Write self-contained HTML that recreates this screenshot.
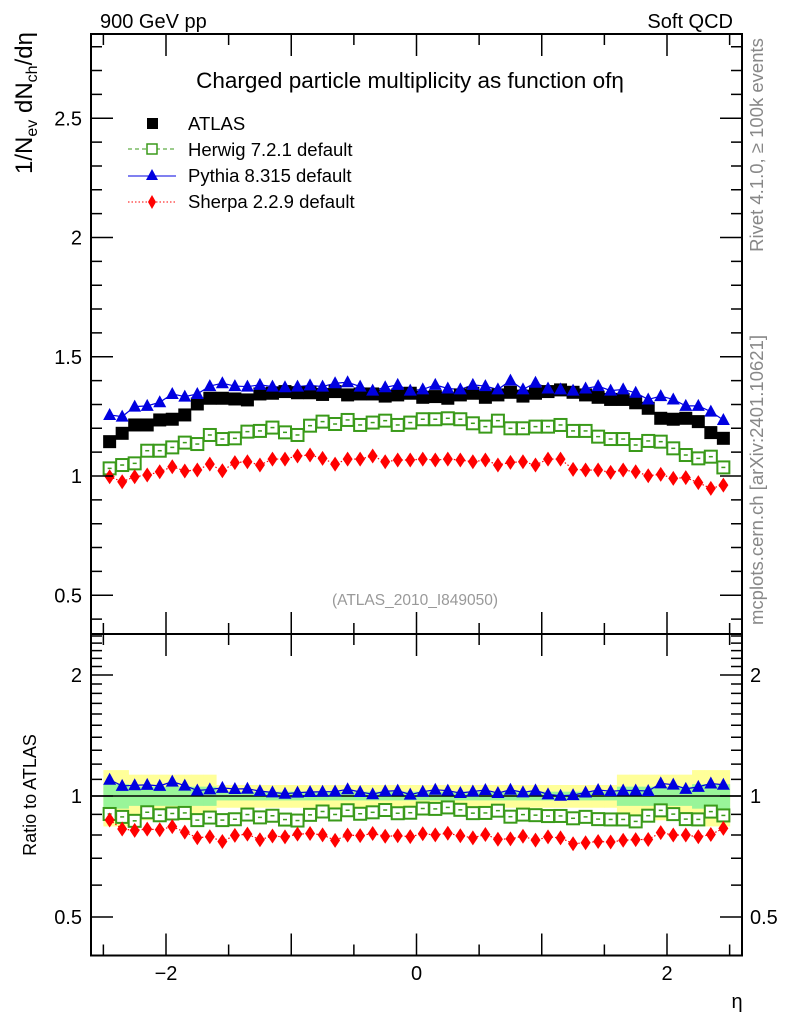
<!DOCTYPE html>
<html><head><meta charset="utf-8"><style>
html,body{margin:0;padding:0;background:#fff;}
svg{display:block;font-family:"Liberation Sans",sans-serif;}
</style></head><body>
<svg id="chart" width="786" height="1024" viewBox="0 0 786 1024">
<g id="bands"></g>
<g id="lines"></g>
<g id="marks"></g>
<g id="axes"></g>
<text x="100" y="28" font-size="20">900 GeV pp</text>
<text x="733" y="28" font-size="20" text-anchor="end">Soft QCD</text>
<text x="410" y="88" font-size="22.5" text-anchor="middle">Charged particle multiplicity as function ofη</text>
<g>
<rect x="147" y="118" width="11" height="11" fill="#000"/>
<text x="188" y="130" font-size="18.5">ATLAS</text>
<line x1="128" y1="149" x2="176" y2="149" stroke="#3a9a1a" stroke-dasharray="4,3"/>
<rect x="147" y="144" width="10" height="10" fill="#fff" stroke="#3a9a1a" stroke-width="1.5"/>
<text x="188" y="156" font-size="18.5">Herwig 7.2.1 default</text>
<line x1="128" y1="176" x2="176" y2="176" stroke="#0000e0"/>
<polygon points="152,169 158,180 146,180" fill="#0000e0"/>
<text x="188" y="182" font-size="18.5">Pythia 8.315 default</text>
<line x1="128" y1="202" x2="176" y2="202" stroke="#f00" stroke-dasharray="1.5,2"/>
<polygon points="152,195 156,202 152,209 148,202" fill="#f00"/>
<text x="188" y="208" font-size="18.5">Sherpa 2.2.9 default</text>
</g>
<text x="415" y="605" font-size="15.5" fill="#999" text-anchor="middle">(ATLAS_2010_I849050)</text>
<text transform="translate(32,103) rotate(-90)" font-size="24" text-anchor="middle">1/N<tspan font-size="16" dy="5">ev</tspan><tspan dy="-5"> dN</tspan><tspan font-size="16" dy="5">ch</tspan><tspan dy="-5">/dη</tspan></text>
<text transform="translate(36,795) rotate(-90)" font-size="18" text-anchor="middle">Ratio to ATLAS</text>
<text transform="translate(763,145) rotate(-90)" font-size="18.5" fill="#888" text-anchor="middle">Rivet 4.1.0, ≥ 100k events</text>
<text transform="translate(763,480) rotate(-90)" font-size="18.5" fill="#888" text-anchor="middle">mcplots.cern.ch [arXiv:2401.10621]</text>
<text x="737" y="1008" font-size="20" text-anchor="middle">η</text>
</svg>
<script>
const etaCenters = [-2.45,-2.35,-2.25,-2.15,-2.05,-1.95,-1.85,-1.75,-1.65,-1.55,-1.45,-1.35,-1.25,-1.15,-1.05,-0.95,-0.85,-0.75,-0.65,-0.55,-0.45,-0.35,-0.25,-0.15,-0.05,0.05,0.15,0.25,0.35,0.45,0.55,0.65,0.75,0.85,0.95,1.05,1.15,1.25,1.35,1.45,1.55,1.65,1.75,1.85,1.95,2.05,2.15,2.25,2.35,2.45];
const atlasValues = [1.144,1.179,1.214,1.214,1.235,1.238,1.256,1.302,1.326,1.326,1.323,1.319,1.344,1.347,1.354,1.349,1.349,1.342,1.354,1.340,1.344,1.344,1.335,1.340,1.347,1.330,1.333,1.326,1.340,1.347,1.330,1.340,1.351,1.335,1.347,1.354,1.361,1.351,1.340,1.330,1.321,1.321,1.307,1.284,1.242,1.238,1.242,1.228,1.182,1.158];
const herwigValues = [1.032,1.046,1.053,1.106,1.106,1.120,1.140,1.134,1.172,1.155,1.158,1.186,1.189,1.203,1.183,1.172,1.211,1.228,1.218,1.235,1.214,1.224,1.232,1.214,1.224,1.238,1.238,1.242,1.238,1.221,1.207,1.232,1.200,1.200,1.207,1.207,1.214,1.189,1.189,1.165,1.155,1.155,1.130,1.147,1.144,1.116,1.088,1.074,1.081,1.036];
const pythiaValues = [1.256,1.249,1.291,1.294,1.309,1.344,1.333,1.344,1.377,1.389,1.377,1.375,1.382,1.375,1.372,1.375,1.380,1.375,1.389,1.393,1.375,1.358,1.372,1.382,1.358,1.363,1.382,1.367,1.363,1.382,1.377,1.363,1.400,1.363,1.391,1.367,1.363,1.358,1.367,1.377,1.358,1.363,1.349,1.321,1.335,1.321,1.294,1.294,1.270,1.235];
const sherpaValues = [0.997,0.976,0.997,1.004,1.018,1.039,1.021,1.025,1.050,1.022,1.056,1.060,1.046,1.071,1.071,1.084,1.088,1.074,1.050,1.071,1.071,1.084,1.060,1.067,1.067,1.071,1.067,1.071,1.067,1.060,1.067,1.046,1.057,1.060,1.046,1.071,1.071,1.028,1.025,1.025,1.015,1.025,1.018,1.001,1.007,0.990,0.993,0.972,0.948,0.962];
const statErr = [0.07,0.07,0.055,0.055,0.055,0.055,0.055,0.055,0.055,0.025,0.025,0.025,0.025,0.025,0.025,0.025,0.025,0.025,0.025,0.025,0.025,0.025,0.025,0.025,0.025,0.025,0.025,0.025,0.025,0.025,0.025,0.025,0.025,0.025,0.025,0.025,0.025,0.025,0.025,0.025,0.025,0.055,0.055,0.055,0.055,0.055,0.055,0.07,0.07,0.07];
const totalErr = [0.16,0.16,0.13,0.13,0.13,0.13,0.13,0.13,0.13,0.065,0.065,0.065,0.065,0.065,0.065,0.065,0.065,0.065,0.065,0.065,0.065,0.065,0.065,0.065,0.065,0.065,0.065,0.065,0.065,0.065,0.065,0.065,0.065,0.065,0.065,0.065,0.065,0.065,0.065,0.065,0.065,0.13,0.13,0.13,0.13,0.13,0.13,0.16,0.16,0.16];
const mainTicks = [0.5,1,1.5,2,2.5];
const ratioTicks = [0.5,1,2];
const xTicks = [-2,0,2];

const NS="http://www.w3.org/2000/svg";
const L=91,R=742,T=34,MB=634,RB=955.5;
const xS=v=>416.5+v*125.25;
const yM=v=>476-(v-1)*238.5;
const yR=r=>796-121*Math.log2(r);
function mk(tag,attrs,parent){const e=document.createElementNS(NS,tag);for(const k in attrs)e.setAttribute(k,attrs[k]);parent.appendChild(e);return e;}
const bands=document.getElementById('bands'),lines=document.getElementById('lines'),marks=document.getElementById('marks'),axes=document.getElementById('axes');

etaCenters.forEach((c,i)=>{
  const x0=xS(c-0.05),x1=xS(c+0.05);
  const y=mk('rect',{x:x0,y:yR(1+totalErr[i]),width:x1-x0+0.5,height:yR(1-totalErr[i])-yR(1+totalErr[i]),fill:'#ffff99'},bands);
  
  
});
etaCenters.forEach((c,i)=>{
  const x0=xS(c-0.05),x1=xS(c+0.05);
  const g=mk('rect',{x:x0,y:yR(1+statErr[i]),width:x1-x0+0.5,height:yR(1-statErr[i])-yR(1+statErr[i]),fill:'#99f599'},bands);
  
  
});
const one=mk('line',{x1:L,x2:R,y1:yR(1),y2:yR(1),stroke:'#000','stroke-width':1.5},bands);



const series=[
 {name:'herwig',vals:herwigValues,color:'#3a9a1a',dash:'4,3'},
 {name:'pythia',vals:pythiaValues,color:'#0000e0',dash:''},
 {name:'sherpa',vals:sherpaValues,color:'#f00',dash:'1.5,2'}
];
function marker(name,x,y,color,panel){
  let e;
  if(name==='herwig'){
    e=mk('g',{},marks);
    mk('rect',{x:x-6,y:y-6,width:12,height:12,fill:'#fff',stroke:color,'stroke-width':2},e);
    mk('line',{x1:x-2,x2:x+2,y1:y,y2:y,stroke:color,'stroke-width':1.5},e);
  } else if(name==='pythia'){
    e=mk('polygon',{points:`${x},${y-7} ${x+6.5},${y+5} ${x-6.5},${y+5}`,fill:color},marks);
  } else {
    e=mk('polygon',{points:`${x},${y-7.5} ${x+5},${y} ${x},${y+7.5} ${x-5},${y}`,fill:color},marks);
  }
  
  
}
series.forEach(s=>{
  const pm=etaCenters.map((c,i)=>xS(c)+','+yM(s.vals[i])).join(' ');
  const pr=etaCenters.map((c,i)=>xS(c)+','+yR(s.vals[i]/atlasValues[i])).join(' ');
  const l1=mk('polyline',{points:pm,fill:'none',stroke:s.color,'stroke-width':1.2,'stroke-dasharray':s.dash},lines);
  
  
  const l2=mk('polyline',{points:pr,fill:'none',stroke:s.color,'stroke-width':1.2,'stroke-dasharray':s.dash},lines);
  
  
});
etaCenters.forEach((c,i)=>{
  const r=mk('rect',{x:xS(c)-6.5,y:yM(atlasValues[i])-6.5,width:13,height:13,fill:'#000'},marks);
  
  
});
series.forEach(s=>{
  etaCenters.forEach((c,i)=>{
    marker(s.name,xS(c),yM(s.vals[i]),s.color,'main');
    marker(s.name,xS(c),yR(s.vals[i]/atlasValues[i]),s.color,'ratio');
  });
});

[[T,MB,'main-frame'],[MB,RB,'ratio-frame']].forEach(f=>{
  const r=mk('rect',{x:L,y:f[0],width:R-L,height:f[1]-f[0],fill:'none',stroke:'#000','stroke-width':2},axes);
  
  
});
for(let k=4;k<=28;k++){
  const v=k/10,y=yM(v);
  if(y<T||y>MB)continue;
  const maj=Math.abs(v*2-Math.round(v*2))<1e-9;
  const len=maj?22:11;
  const t=mk('path',{d:`M${L},${y}h${len}M${R},${y}h${-len}`,stroke:'#000','stroke-width':1.5},axes);
  
  
}
mainTicks.forEach(v=>{
  const t=mk('text',{x:82,y:yM(v)+7,'font-size':20,'text-anchor':'end'},axes);
  t.textContent=String(v);
  
  
});
for(let k=4;k<=25;k++){
  const v=k/10,y=yR(v);
  if(y<MB||y>RB)continue;
  const maj=(k===5||k===10||k===20);
  const len=maj?22:11;
  const t=mk('path',{d:`M${L},${y}h${len}M${R},${y}h${-len}`,stroke:'#000','stroke-width':1.5},axes);
  
  
}
ratioTicks.forEach(v=>{
  const a=mk('text',{x:82,y:yR(v)+7,'font-size':20,'text-anchor':'end'},axes);
  a.textContent=String(v);
  
  
  const b=mk('text',{x:750,y:yR(v)+7,'font-size':20},axes);
  b.textContent=String(v);
  
  
});
for(let k=-5;k<=5;k++){
  const v=k/2,x=xS(v);
  const maj=(k%2===0);
  const len=maj?22:11;
  [[T,1],[MB,-1],[MB,1],[RB,-1]].forEach(p=>{
    const t=mk('line',{x1:x,x2:x,y1:p[0],y2:p[0]+p[1]*len,stroke:'#000','stroke-width':1.5},axes);
    
    
  });
}
xTicks.forEach(v=>{
  const t=mk('text',{x:xS(v),y:980,'font-size':20,'text-anchor':'middle'},axes);
  t.textContent=v<0?'\u2212'+Math.abs(v):String(v);
  
  
});
</script>
</body></html>
